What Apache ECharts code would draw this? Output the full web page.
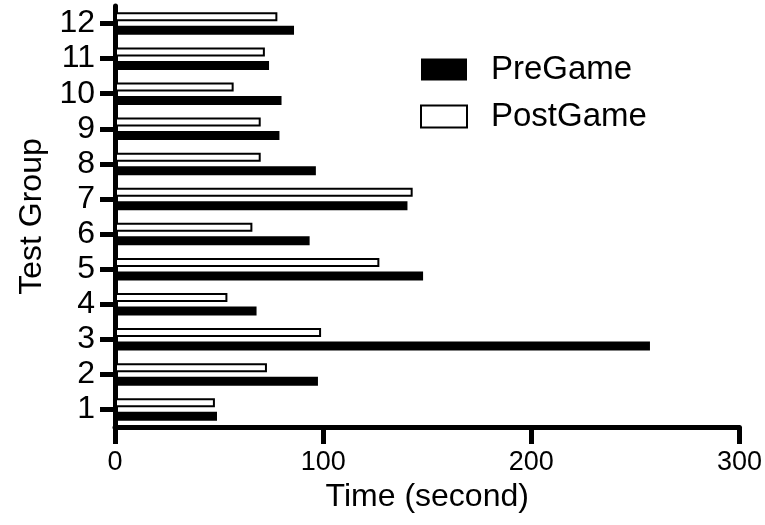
<!DOCTYPE html>
<html>
<head>
<meta charset="utf-8">
<script src="https://cdn.jsdelivr.net/npm/echarts@6/dist/echarts.min.js"></script>
<style>
html,body{margin:0;padding:0;background:#fff;}
#chart{width:765px;height:525px;}
</style>
</head>
<body>
<div id="chart"></div>
<script>
var categories = ['1','2','3','4','5','6','7','8','9','10','11','12'];
var preGame = [49, 97.5, 257, 68, 148, 93.5, 140.5, 96.5, 79, 80, 74, 86];
var postGame = [48, 73, 99, 54, 127, 66, 143, 70, 70, 57, 72, 78];
var xTicks = { min: 0, max: 300, interval: 100 };

var FONT = 'Liberation Sans';
var chart = echarts.init(document.getElementById('chart'), null, {renderer: 'canvas'});
chart.setOption({
  animation: false,
  backgroundColor: '#ffffff',
  textStyle: { fontFamily: FONT, color: '#000' },
  grid: { left: 115, right: 25, top: 6, bottom: 98, containLabel: false },
  legend: {
    orient: 'vertical',
    left: 415,
    top: 48,
    icon: 'rect',
    itemWidth: 46,
    itemHeight: 22,
    itemGap: 14,
    textStyle: { fontFamily: FONT, fontSize: 33, color: '#000', padding: [0, 0, 0, 19] },
    data: ['PreGame', 'PostGame']
  },
  xAxis: {
    type: 'value',
    min: xTicks.min, max: xTicks.max, interval: xTicks.interval,
    name: 'Time (second)',
    nameLocation: 'middle',
    nameGap: 50,
    nameTextStyle: { fontFamily: FONT, fontSize: 32, color: '#000' },
    axisLine: { show: true, lineStyle: { color: '#000', width: 5 } },
    axisTick: { show: true, length: 17, lineStyle: { color: '#000', width: 5 } },
    axisLabel: { fontFamily: FONT, fontSize: 27, color: '#000', margin: 22 },
    splitLine: { show: false }
  },
  yAxis: {
    type: 'category',
    data: categories,
    name: 'Test Group',
    nameLocation: 'middle',
    nameGap: 66,
    nameTextStyle: { fontFamily: FONT, fontSize: 32, color: '#000' },
    axisLine: { show: true, lineStyle: { color: '#000', width: 5 } },
    axisTick: { show: true, alignWithLabel: true, interval: 0, length: 15, lineStyle: { color: '#000', width: 5 } },
    axisLabel: { fontFamily: FONT, fontSize: 32, color: '#000', margin: 20, interval: 0 },
    splitLine: { show: false }
  },
  series: [
    {
      name: 'PostGame',
      type: 'bar',
      data: postGame,
      barWidth: 9,
      barGap: '50%',
      itemStyle: { color: '#fff', borderColor: '#000', borderWidth: 2 }
    },
    {
      name: 'PreGame',
      type: 'bar',
      data: preGame,
      barWidth: 9,
      barGap: '50%',
      itemStyle: { color: '#000', borderColor: '#000', borderWidth: 0 }
    }
  ]
});
</script>
</body>
</html>
